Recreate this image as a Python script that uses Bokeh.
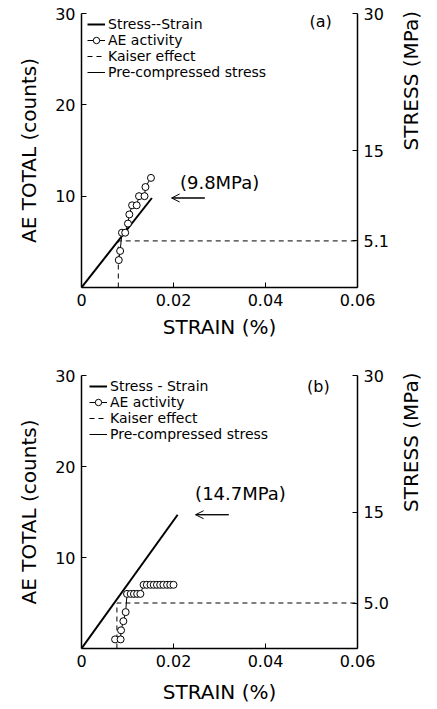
import math
from bokeh.plotting import figure
from bokeh.models import (Range1d, LinearAxis, FixedTicker, CustomJSTickFormatter,
                          Legend, LegendItem, Label, Arrow, OpenHead)
from bokeh.layouts import column
from bokeh.embed import file_html
from bokeh.resources import INLINE

FONT = "DejaVu Sans"

# ---- shared axis ticks ----
strain_ticks = [0, 0.02, 0.04, 0.06]
count_ticks = [10, 20, 30]

# ---- panel (a) ----
ss_strain_a = [0.0, 0.0153]
ss_stress_a = [0.0, 9.8]
ae_strain_a = [0.0081, 0.0084, 0.0088, 0.0095, 0.0101, 0.0104,
               0.0110, 0.0120, 0.0125, 0.0137, 0.0139, 0.0151]
ae_count_a = [3, 4, 6, 6, 7, 8, 9, 9, 10, 10, 11, 12]
kaiser_strain_a = 0.0080
kaiser_stress_a = 5.1
pre_stress_a = 9.8
arrow_strain_a = [0.0268, 0.0196]
stress_ticks_a = [5.1, 15, 30]
legend_a = ["Stress--Strain", "AE activity", "Kaiser effect", "Pre-compressed stress"]

# ---- panel (b) ----
ss_strain_b = [0.0, 0.0209]
ss_stress_b = [0.0, 14.7]
ae_strain_b = [0.0073, 0.0085, 0.0086, 0.0091, 0.0096, 0.0099, 0.0107, 0.0114,
               0.0121, 0.0128, 0.0135, 0.0142, 0.0150, 0.0157, 0.0164, 0.0171,
               0.0178, 0.0186, 0.0193, 0.0200]
ae_count_b = [1, 1, 2, 3, 4, 6, 6, 6, 6, 6, 7, 7, 7, 7, 7, 7, 7, 7, 7, 7]
kaiser_strain_b = 0.0077
kaiser_stress_b = 5.0
pre_stress_b = 14.7
arrow_strain_b = [0.0320, 0.0248]
stress_ticks_b = [5.0, 15, 30]
legend_b = ["Stress - Strain", "AE activity", "Kaiser effect", "Pre-compressed stress"]


def make_panel(tag, ss_x, ss_y, ae_x, ae_y, k_x, k_y, pre, arrow_x, stress_ticks,
               legend_labels, height, top, bottom, tag_xy, pre_label_xy, legend_x,
               x_title_standoff):
    p = figure(width=437, height=height, x_range=Range1d(0, strain_ticks[-1]),
               y_range=Range1d(0, count_ticks[-1]), output_backend="svg",
               toolbar_location=None, min_border_left=81, min_border_right=79,
               min_border_top=top, min_border_bottom=bottom)
    p.extra_y_ranges = {"stress": Range1d(0, 30)}
    p.outline_line_color = None
    p.xgrid.visible = False
    p.ygrid.visible = False
    p.background_fill_color = "white"

    xa = p.xaxis[0]
    xa.ticker = FixedTicker(ticks=strain_ticks)
    xa.formatter = CustomJSTickFormatter(code="return tick == 0 ? '0' : tick.toFixed(2);")
    xa.axis_label = "STRAIN (%)"
    xa.axis_label_standoff = x_title_standoff

    ya = p.yaxis[0]
    ya.ticker = FixedTicker(ticks=count_ticks)
    ya.axis_label = "AE TOTAL (counts)"
    ya.axis_label_standoff = 11

    ra = LinearAxis(y_range_name="stress", ticker=FixedTicker(ticks=stress_ticks),
                    formatter=CustomJSTickFormatter(
                        code="return tick < 10 ? tick.toFixed(1) : tick.toFixed(0);"))
    ra.axis_label = "STRESS (MPa)"
    ra.axis_label_standoff = 19
    ra.axis_label_orientation = math.pi / 2
    p.add_layout(ra, "right")

    for ax in (xa, ya, ra):
        ax.axis_label_text_font = FONT
        ax.axis_label_text_font_size = "20px"
        ax.axis_label_text_font_style = "normal"
        ax.axis_label_text_color = "black"
        ax.major_label_text_font = FONT
        ax.major_label_text_font_size = "16px"
        ax.major_label_text_color = "black"
        ax.major_tick_in = 5
        ax.major_tick_out = 0
        ax.minor_tick_in = 0
        ax.minor_tick_out = 0
        ax.axis_line_width = 1.5
        ax.axis_line_color = "black"
        ax.major_tick_line_color = "black"
        ax.major_label_standoff = 6

    r_ss = p.line(ss_x, ss_y, y_range_name="stress", line_width=2, color="black")
    r_k = p.line([k_x, k_x, strain_ticks[-1]], [0, k_y, k_y], y_range_name="stress",
                 line_dash="5 4", line_width=1, color="black")
    r_ae_line = p.line(ae_x, ae_y, line_width=1, color="black")
    r_ae_pts = p.scatter(ae_x, ae_y, marker="circle", size=7, fill_color="white",
                         line_color="black", line_width=1)
    r_pre = p.segment(x0=[arrow_x[0]], y0=[pre], x1=[arrow_x[1]], y1=[pre],
                      y_range_name="stress", line_width=1, color="black")
    p.add_layout(Arrow(end=OpenHead(size=8, line_width=1, line_color="black"),
                       x_start=arrow_x[0], y_start=pre, x_end=arrow_x[1], y_end=pre,
                       y_range_name="stress", line_width=1, line_color="black"))

    frame_h = height - top - bottom
    legend = Legend(items=[
        LegendItem(label=legend_labels[0], renderers=[r_ss]),
        LegendItem(label=legend_labels[1], renderers=[r_ae_line, r_ae_pts]),
        LegendItem(label=legend_labels[2], renderers=[r_k]),
        LegendItem(label=legend_labels[3], renderers=[r_pre]),
    ], location=(legend_x, frame_h - 67), padding=0, margin=0, spacing=0,
        label_height=16, glyph_height=16, glyph_width=18, label_standoff=3,
        label_text_font=FONT, label_text_font_size="14px", label_text_color="black",
        background_fill_alpha=0, border_line_color=None)
    p.add_layout(legend)

    p.add_layout(Label(x=tag_xy[0], y=tag_xy[1], text=tag, text_align="center",
                       text_baseline="middle", text_font=FONT, text_font_size="16px",
                       text_color="black"))
    p.add_layout(Label(x=pre_label_xy[0], y=pre_label_xy[1], y_range_name="stress",
                       text="(%sMPa)" % pre, text_align="left", text_baseline="middle",
                       text_font=FONT, text_font_size="18px", text_color="black"))
    return p


pa = make_panel("(a)", ss_strain_a, ss_stress_a, ae_strain_a, ae_count_a,
                kaiser_strain_a, kaiser_stress_a, pre_stress_a, arrow_strain_a,
                stress_ticks_a, legend_a, 345, 13, 58, (0.052, 29.1), (0.0214, 11.5), 6, 6)
pb = make_panel("(b)", ss_strain_b, ss_stress_b, ae_strain_b, ae_count_b,
                kaiser_strain_b, kaiser_stress_b, pre_stress_b, arrow_strain_b,
                stress_ticks_b, legend_b, 363, 30, 60, (0.0515, 28.8), (0.0247, 17.0), 8, 10)

layout = column(pa, pb, spacing=0)
open("out.html", "w").write(file_html(layout, INLINE))
